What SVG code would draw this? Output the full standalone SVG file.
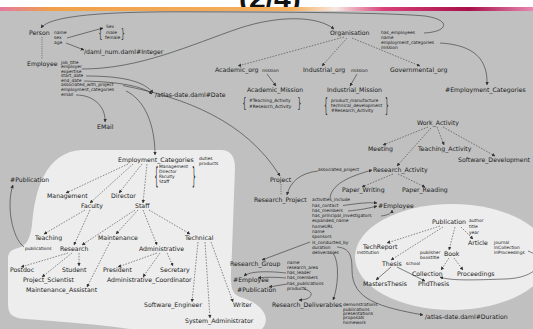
<svg xmlns="http://www.w3.org/2000/svg" width="533" height="329" viewBox="0 0 533 329">
<style>
text{font-family:"DejaVu Sans",Verdana,sans-serif;fill:#1a1a1a}
.n{font-size:6.2px}
.a{font-size:4.4px}
.br{font-size:10px}
.c{fill:none;stroke:#333;stroke-width:0.6;marker-end:url(#ah)}
.d{fill:none;stroke:#333;stroke-width:0.55;stroke-dasharray:1.6 1.3;marker-end:url(#ah)}
.t{fill:none;stroke:#444;stroke-width:0.7;stroke-dasharray:0.8 1}
</style>
<defs>
<marker id="ah" viewBox="0 0 6 6" refX="5.5" refY="3" markerWidth="3.5" markerHeight="3.5" markerUnits="userSpaceOnUse" orient="auto"><path d="M0,0 L6,3 L0,6 z" fill="#333"/></marker>
<linearGradient id="bar" x1="0" y1="0" x2="1" y2="0">
<stop offset="0" stop-color="#e57aa0"/>
<stop offset="0.1" stop-color="#f0a048"/>
<stop offset="0.55" stop-color="#f4b060"/>
<stop offset="0.63" stop-color="#f6e8e0"/>
<stop offset="0.72" stop-color="#d8407a"/>
<stop offset="0.88" stop-color="#a8104a"/>
<stop offset="1" stop-color="#e888b0"/>
</linearGradient>
</defs>
<rect x="0" y="0" width="533" height="329" fill="#ffffff"/>
<text x="239" y="8" style="font-family:'Liberation Sans',Arial,sans-serif;font-size:30px;font-weight:bold;fill:#111">(2/4)</text>
<rect x="0" y="7" width="533" height="4" fill="url(#bar)"/>
<rect x="0" y="11" width="533" height="318" fill="#c0c0c0"/>
<path id="blob-left" d="M82,150 L222,150 Q235,151 235,168 L232,250 C231,280 228,292 240,297 C262,303 272,318 262,329 L130,329 C80,322 30,320 18,318 Q8,316 8,305 L8,258 Q8,250 18,248 C26,246 30,240 32,225 C35,190 45,152 82,150 Z" fill="#ededed"/>
<ellipse id="blob-right" cx="452" cy="257" rx="97" ry="53" fill="#ededed"/>

<g id="connectors">
<path class="t" d="M42,37 L42,59"/>
<path class="t" d="M281,184 L281,195"/>
<path class="c" d="M424,33 C448,32 452,20 425,16 C380,12 250,12 180,11.8 C110,11.8 50,15 41,28"/>
<path class="c" d="M82,69 C140,69 190,45 240,28 C280,15 318,16 334,29"/>
<path class="c" d="M67,38 L103,28"/>
<path class="c" d="M66,43 L84,50"/>
<path class="c" d="M86,76 C125,76 145,82 153,93"/>
<path class="c" d="M84,81 C120,82 142,86 152,94"/>
<path class="c" d="M123,85.5 C185,98 245,120 280,176"/>
<path class="c" d="M126,91 C145,100 155,125 155,155"/>
<path class="c" d="M76,95 C95,95 106,108 105,122"/>
<path class="c" d="M440,43 C475,45 488,60 487,85"/>
<path class="c" d="M267,74 L276,86"/>
<path class="c" d="M357,74 L350,86"/>
<path class="c" d="M318,171 C300,173 290,182 287,195"/>
<path class="c" d="M330,198 C332,182 355,175 372,170"/>
<path class="c" d="M343,205.5 C355,204 365,202 377,203"/>
<path class="c" d="M348,211 C360,210 370,208 377,206"/>
<path class="c" d="M381,216 C389,215 392,213 392,210"/>
<path class="c" d="M310,242 L262,260"/>
<path class="c" d="M337,247 C350,248 352,256 352,270 C352,300 380,307 423,315"/>
<path class="c" d="M333,253 C340,262 338,288 333,300"/>
<path class="c" d="M286,273 C268,271 250,271 244,276"/>
<path class="c" d="M286,278 C275,277 265,277 258,278"/>
<path class="c" d="M287,284 L269,287"/>
<path class="c" d="M304,289 C316,292 312,300 299,300"/>
<path class="c" d="M24,247 C12,238 6,205 13,185"/>
<path class="c" d="M528,251 C548,258 540,278 505,279 C475,280 450,281 440,277"/>
<path class="c" d="M391,267 L376,280"/>
<path class="c" d="M397,267 L425,281"/>
<path class="d" d="M344,37 L238,66"/>
<path class="d" d="M347,38 L322,66"/>
<path class="d" d="M352,38 L420,66"/>
<path class="d" d="M428,127 L383,145"/>
<path class="d" d="M437,127 L444,145"/>
<path class="d" d="M443,127 L495,156"/>
<path class="d" d="M431,128 L397,166"/>
<path class="d" d="M393,174 L362,187"/>
<path class="d" d="M398,174 L425,187"/>
<path class="d" d="M440,226 L387,243"/>
<path class="d" d="M443,227 L391,260"/>
<path class="d" d="M455,227 L449,250"/>
<path class="d" d="M461,227 L473,239"/>
<path class="d" d="M449,258 L441,270"/>
<path class="d" d="M454,258 L463,270"/>
<path class="d" d="M128,164 L66,193"/>
<path class="d" d="M133,164 L90,203"/>
<path class="d" d="M142,164 L119,193"/>
<path class="d" d="M147,164 L143,203"/>
<path class="d" d="M85,210 L44,234"/>
<path class="d" d="M90,210 L74,245"/>
<path class="d" d="M135,210 L82,245"/>
<path class="d" d="M138,210 L116,234"/>
<path class="d" d="M143,210 L157,245"/>
<path class="d" d="M149,210 L190,234"/>
<path class="d" d="M68,253 L21,267"/>
<path class="d" d="M72,253 L42,277"/>
<path class="d" d="M79,253 L79,266"/>
<path class="d" d="M110,242 L87,287"/>
<path class="d" d="M157,253 L118,267"/>
<path class="d" d="M160,253 L143,277"/>
<path class="d" d="M167,253 L173,266"/>
<path class="d" d="M198,242 L192,302"/>
<path class="d" d="M205,242 L210,318"/>
<path class="d" d="M211,242 L233,302"/>
</g>

<g id="person"><text class="n" x="29" y="34.5">Person</text>
<text class="a" x="54" y="33.5">name</text><text class="a" x="54" y="39">sex</text><text class="a" x="54" y="44">age</text></g>
<g id="sex"><text class="a" x="106" y="28">Sex</text><text class="a" x="106" y="34">male</text><text class="a" x="105" y="39">female</text>
<text class="br" transform="translate(98.5,38.4) scale(0.6,1.24)">{</text><text class="br" transform="translate(121,38.4) scale(0.6,1.24)">}</text></g>
<g id="integer"><text class="n" x="84" y="54">/daml_num.daml#Integer</text></g>
<g id="employee"><text class="n" x="27" y="66">Employee</text>
<text class="a" x="61" y="64">job_title</text><text class="a" x="61" y="68.3">employer</text><text class="a" x="61" y="72.6">expertise</text><text class="a" x="61" y="77">start_date</text><text class="a" x="61" y="81.5">end_date</text><text class="a" x="61" y="86.2">associated_with_project</text><text class="a" x="61" y="91">employment_categories</text><text class="a" x="61" y="95.5">email</text></g>
<g id="date"><text class="n" x="155" y="97">/atlas-date.daml#Date</text></g>
<g id="email"><text class="n" x="97" y="129">EMail</text></g>
<g id="organisation"><text class="n" x="330" y="34.5">Organisation</text>
<text class="a" x="381" y="33.5">has_employees</text><text class="a" x="381" y="38.5">name</text><text class="a" x="381" y="44">employment_categories</text><text class="a" x="381" y="49">mission</text></g>
<g id="academic-org"><text class="n" x="215" y="72">Academic_org</text><text class="a" x="262" y="71.5">mission</text></g>
<g id="industrial-org"><text class="n" x="303" y="72">Industrial_org</text><text class="a" x="351" y="71.5">mission</text></g>
<g id="governmental-org"><text class="n" x="390" y="72">Governmental_org</text></g>
<g id="employment-categories-ref"><text class="n" x="445" y="92">#Employment_Categories</text></g>
<g id="academic-mission"><text class="n" x="247" y="92">Academic_Mission</text>
<text class="a" x="249" y="101.5">#Teaching_Activity</text><text class="a" x="249" y="107.5">#Research_Activity</text>
<text class="br" transform="translate(242.5,108.1) scale(0.6,1.46)">{</text><text class="br" transform="translate(297.5,108.1) scale(0.6,1.46)">}</text></g>
<g id="industrial-mission"><text class="n" x="327" y="92">Industrial_Mission</text>
<text class="a" x="331" y="101.5">product_manufacture</text><text class="a" x="331" y="106.5">technical_development</text><text class="a" x="331" y="111.5">#Research_Activity</text>
<text class="br" transform="translate(324,112.4) scale(0.6,2.02)">{</text><text class="br" transform="translate(385,112.4) scale(0.6,2.02)">}</text></g>
<g id="work-activity"><text class="n" x="417" y="125">Work_Activity</text></g>
<g id="meeting"><text class="n" x="368" y="150.5">Meeting</text></g>
<g id="teaching-activity"><text class="n" x="418" y="150.5">Teaching_Activity</text></g>
<g id="software-development"><text class="n" x="458" y="161.5">Software_Development</text></g>
<g id="research-activity"><text class="n" x="373" y="172">Research_Activity</text><text class="a" x="318" y="171">associated_project</text></g>
<g id="paper-writing"><text class="n" x="342" y="192">Paper_Writing</text></g>
<g id="paper-reading"><text class="n" x="402" y="192">Paper_Reading</text></g>
<g id="project"><text class="n" x="270" y="181.5">Project</text></g>
<g id="research-project"><text class="n" x="254" y="202">Research_Project</text>
<text class="a" x="312" y="201.3">activities_include</text><text class="a" x="312" y="206.6">has_contact</text><text class="a" x="312" y="211.8">has_members</text><text class="a" x="312" y="217.1">has_principal_investigators</text><text class="a" x="312" y="222.4">expanded_name</text><text class="a" x="312" y="227.6">homeURL</text><text class="a" x="312" y="232.9">name</text><text class="a" x="312" y="238.2">sponsors</text><text class="a" x="312" y="243.5">is_conducted_by</text><text class="a" x="312" y="248.7">duration</text><text class="a" x="312" y="254">deliverables</text></g>
<g id="employee-ref-1"><text class="n" x="378" y="208">#Employee</text></g>
<g id="research-group"><text class="n" x="230" y="266">Research_Group</text>
<text class="a" x="287" y="264">name</text><text class="a" x="287" y="269">research_area</text><text class="a" x="287" y="274">has_leader</text><text class="a" x="287" y="279">has_members</text><text class="a" x="287" y="284.5">has_publications</text><text class="a" x="287" y="290">products</text></g>
<g id="employee-ref-2"><text class="n" x="233" y="282">#Employee</text></g>
<g id="publication-ref-2"><text class="n" x="237" y="292">#Publication</text></g>
<g id="research-deliverables"><text class="n" x="272" y="307">Research_Deliverables</text>
<text class="a" x="343" y="306.2">demonstrations</text><text class="a" x="343" y="310.5">publications</text><text class="a" x="343" y="314.8">presentations</text><text class="a" x="343" y="319.1">proposals</text><text class="a" x="343" y="323.5">homework</text></g>
<g id="duration"><text class="n" x="425" y="319">/atlas-date.daml#Duration</text></g>
<g id="publication"><text class="n" x="432" y="224">Publication</text>
<text class="a" x="469" y="222">author</text><text class="a" x="469" y="228">title</text><text class="a" x="469" y="233.5">year</text></g>
<g id="techreport"><text class="n" x="363" y="249">TechReport</text><text class="a" x="357" y="254">institution</text></g>
<g id="article"><text class="n" x="468" y="244.5">Article</text>
<text class="a" x="494" y="243.5">journal</text><text class="a" x="494" y="248.5">InCollection</text><text class="a" x="494" y="253.5">InProceedings</text></g>
<g id="book"><text class="n" x="444" y="255.5">Book</text><text class="a" x="420" y="254">publisher</text><text class="a" x="420" y="259">booktitle</text></g>
<g id="thesis"><text class="n" x="382" y="265.5">Thesis</text><text class="a" x="406" y="265">school</text></g>
<g id="collection"><text class="n" x="412" y="275.5">Collection</text></g>
<g id="proceedings"><text class="n" x="457" y="275.5">Proceedings</text></g>
<g id="mastersthesis"><text class="n" x="363" y="286">MastersThesis</text></g>
<g id="phdthesis"><text class="n" x="418" y="286">PhdThesis</text></g>
<g id="publication-ref-1"><text class="n" x="10" y="181.5">#Publication</text></g>
<g id="employment-categories"><text class="n" x="118" y="161.5">Employment_Categories</text>
<text class="a" x="159" y="167.5">Management</text><text class="a" x="159" y="172.5">Director</text><text class="a" x="159" y="177.5">Faculty</text><text class="a" x="159" y="182.5">Staff</text>
<text class="br" transform="translate(154.5,184) scale(0.6,2.25)">{</text><text class="br" transform="translate(192,184) scale(0.6,2.25)">}</text>
<text class="a" x="199" y="160">duties</text><text class="a" x="199" y="165">products</text></g>
<g id="management"><text class="n" x="47" y="198">Management</text></g>
<g id="director"><text class="n" x="111" y="198">Director</text></g>
<g id="faculty"><text class="n" x="81" y="208">Faculty</text></g>
<g id="staff"><text class="n" x="135" y="208">Staff</text></g>
<g id="teaching"><text class="n" x="35" y="239.5">Teaching</text></g>
<g id="research"><text class="n" x="60" y="250.5">Research</text><text class="a" x="25" y="250">publications</text></g>
<g id="maintenance"><text class="n" x="98" y="239.5">Maintenance</text></g>
<g id="administrative"><text class="n" x="139" y="250.5">Administrative</text></g>
<g id="technical"><text class="n" x="185" y="239.5">Technical</text></g>
<g id="postdoc"><text class="n" x="10" y="271.5">Postdoc</text></g>
<g id="student"><text class="n" x="62" y="271.5">Student</text></g>
<g id="president"><text class="n" x="103" y="271.5">President</text></g>
<g id="secretary"><text class="n" x="160" y="271.5">Secretary</text></g>
<g id="project-scientist"><text class="n" x="23" y="282">Project_Scientist</text></g>
<g id="administrative-coordinator"><text class="n" x="107" y="282">Administrative_Coordinator</text></g>
<g id="maintenance-assistant"><text class="n" x="26" y="292">Maintenance_Assistant</text></g>
<g id="software-engineer"><text class="n" x="144" y="307">Software_Engineer</text></g>
<g id="writer"><text class="n" x="233" y="307">Writer</text></g>
<g id="system-administrator"><text class="n" x="185" y="323">System_Administrator</text></g>
</svg>
